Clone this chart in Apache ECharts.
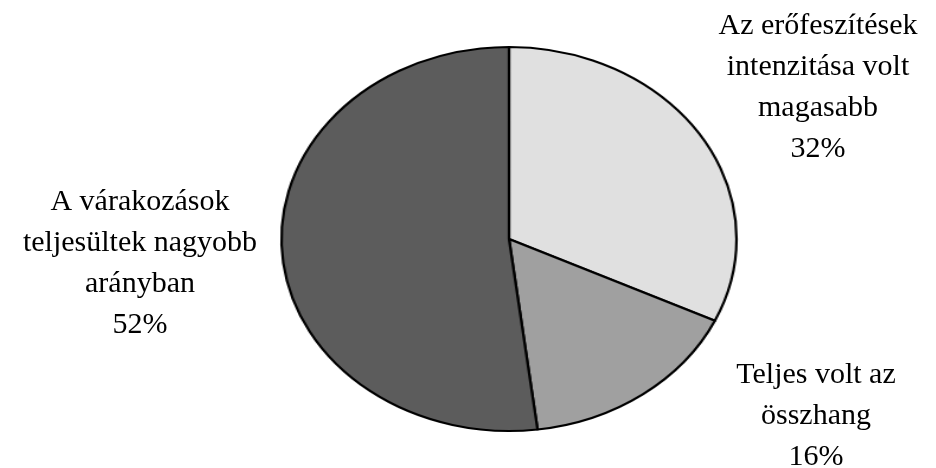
<!DOCTYPE html>
<html>
<head>
<meta charset="utf-8">
<script src="https://cdn.jsdelivr.net/npm/echarts@6/dist/echarts.min.js"></script>
<style>
  html, body { margin: 0; padding: 0; background: #fff; }
  #wrap { position: relative; width: 936px; height: 468px; overflow: hidden; }
  #pie, #labels { position: absolute; left: 0; top: 0; width: 936px; height: 468px; }
  #pie { transform-origin: 509px 239px; transform: scaleX(1.185); }
</style>
</head>
<body>
<div id="wrap">
  <div id="pie"></div>
  <div id="labels"></div>
</div>
<script>
const categories = [
  'Az erőfeszítések\nintenzitása volt\nmagasabb',
  'Teljes volt az\nösszhang',
  'A várakozások\nteljesültek nagyobb\narányban'
];
const values = [32, 16, 52];
const colors = ['#e0e0e0', '#a0a0a0', '#5c5c5c'];
const labelPos = [[818, 88], [816, 416], [140, 264]];

const data = categories.map((c, i) => ({ name: c, value: values[i] }));

const pieChart = echarts.init(document.getElementById('pie'), null, { renderer: 'canvas' });
pieChart.setOption({
  animation: false,
  series: [{
    type: 'pie',
    center: [509, 239],
    radius: 192,
    startAngle: 90,
    clockwise: true,
    silent: true,
    label: { show: false },
    labelLine: { show: false },
    itemStyle: { borderColor: '#000', borderWidth: 2.2 },
    data: data.map((d, i) => ({ ...d, itemStyle: { color: colors[i] } }))
  }]
});

const labelChart = echarts.init(document.getElementById('labels'), null, { renderer: 'canvas' });
labelChart.setOption({
  animation: false,
  series: [{
    type: 'pie',
    center: [509, 239],
    radius: 192,
    startAngle: 90,
    silent: true,
    itemStyle: { color: 'rgba(0,0,0,0)', borderWidth: 0 },
    labelLine: { show: false },
    label: {
      show: true,
      formatter: '{b}\n{d}%',
      color: '#000',
      fontFamily: 'Liberation Serif',
      fontSize: 30,
      lineHeight: 41,
      align: 'center'
    },
    labelLayout: function (params) {
      const p = labelPos[params.dataIndex];
      return { x: p[0], y: p[1], align: 'center', verticalAlign: 'middle' };
    },
    data: data
  }]
});
</script>
</body>
</html>
